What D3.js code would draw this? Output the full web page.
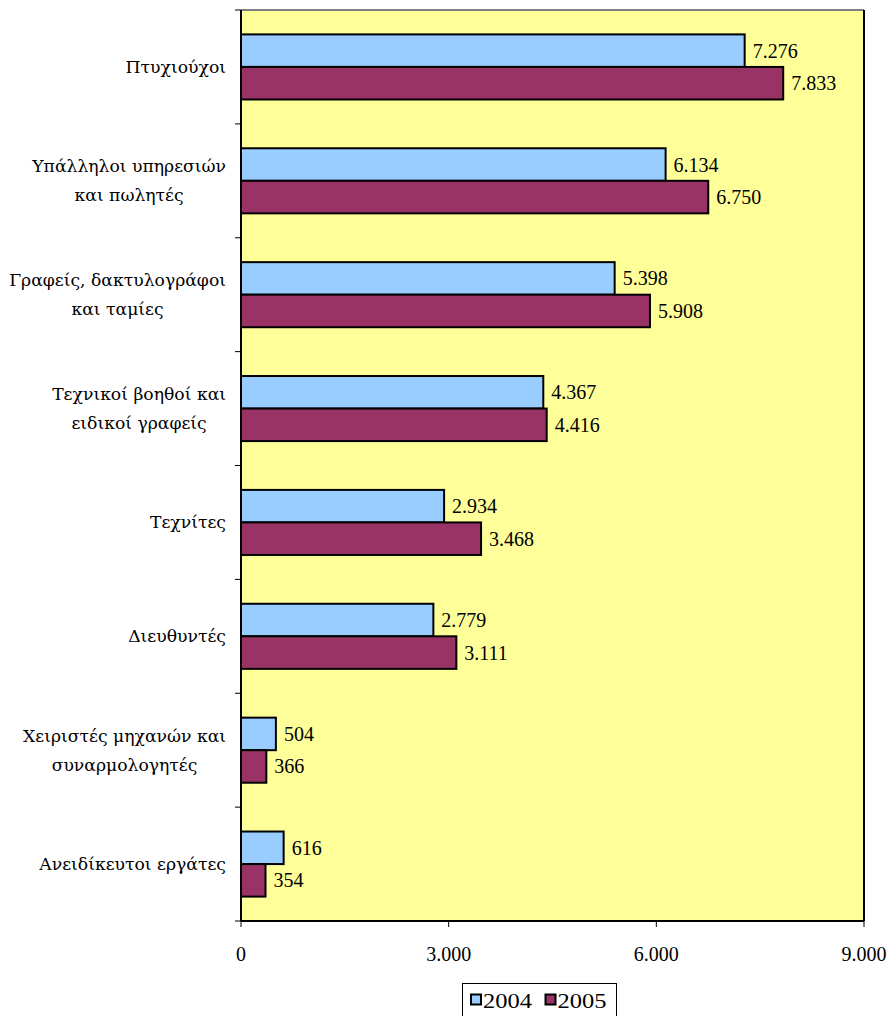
<!DOCTYPE html>
<html><head><meta charset="utf-8">
<script src="https://cdn.jsdelivr.net/npm/d3@7"></script>
<style>body{margin:0;background:#fff;} text{font-family:"Liberation Serif","Times New Roman",serif;fill:#000;} text.cat{font-family:"DejaVu Serif",serif;}</style>
</head><body>
<svg id="c" width="890" height="1016"></svg>
<script>
const categories = [
  ["Πτυχιούχοι"],
  ["Υπάλληλοι υπηρεσιών","και πωλητές"],
  ["Γραφείς, δακτυλογράφοι","και ταμίες"],
  ["Τεχνικοί βοηθοί και","ειδικοί γραφείς"],
  ["Τεχνίτες"],
  ["Διευθυντές"],
  ["Χειριστές μηχανών και","συναρμολογητές"],
  ["Ανειδίκευτοι εργάτες"]
];
const series = ["2004","2005"];
const values2004 = [7276,6134,5398,4367,2934,2779,504,616];
const values2005 = [7833,6750,5908,4416,3468,3111,366,354];
const xTicks = [0,3000,6000,9000];
const colors = ["#99CCFF","#993366"];

const svg = d3.select("#c");
const L=241, R=864, T=10, B=921;
const x = d3.scaleLinear().domain([0,9000]).range([L,R]);
const y = d3.scaleBand().domain(d3.range(categories.length)).range([T,B]).paddingInner(0).paddingOuter(0);
const fmt = v => d3.format(",")(v).replace(/,/g,".");

svg.append("rect").attr("x",L).attr("y",T).attr("width",R-L).attr("height",B-T)
  .attr("fill","#FFFF99").attr("stroke","none");
svg.append("line").attr("x1",L).attr("x2",R).attr("y1",T).attr("y2",T).attr("stroke","#808080").attr("stroke-width",2);
svg.append("line").attr("x1",R).attr("x2",R).attr("y1",T).attr("y2",B).attr("stroke","#000").attr("stroke-width",2);

const bw = y.bandwidth()/3.5;
const data = [values2004, values2005];
categories.forEach((c,i)=>{
  const y0 = y(i) + y.bandwidth()*0.75/3.5;
  data.forEach((vals,s)=>{
    const by = y0 + s*bw;
    svg.append("rect").attr("x",x(0)).attr("y",by).attr("width",x(vals[i])-x(0)).attr("height",bw)
      .attr("fill",colors[s]).attr("stroke","#000").attr("stroke-width",2);
    svg.append("text").attr("x",x(vals[i])+8).attr("y",by+bw/2).attr("dy","0.35em")
      .attr("font-size",20).text(fmt(vals[i]));
  });
  const g = svg.append("g");
  const lines = c.map((t,k)=>g.append("text").attr("class","cat").attr("font-size",17.2).attr("text-anchor","middle").text(t));
  const maxw = d3.max(lines, l=>l.node().getComputedTextLength());
  const cx = 226 - maxw/2;
  const lh = 29;
  const cy = y(i)+y.bandwidth()/2;
  lines.forEach((l,k)=>{
    l.attr("x",cx).attr("y",cy + (k-(c.length-1)/2)*lh).attr("dy","0.35em");
  });
});

svg.append("line").attr("x1",L).attr("x2",L).attr("y1",T).attr("y2",B).attr("stroke","#000").attr("stroke-width",2);
d3.range(categories.length+1).forEach(i=>{
  const yy = i<categories.length ? y(i) : B;
  svg.append("line").attr("x1",L-6).attr("x2",L).attr("y1",yy).attr("y2",yy).attr("stroke","#000").attr("stroke-width",1);
});
svg.append("line").attr("x1",L).attr("x2",R).attr("y1",B).attr("y2",B).attr("stroke","#000").attr("stroke-width",2);
xTicks.forEach(t=>{
  svg.append("line").attr("x1",x(t)).attr("x2",x(t)).attr("y1",B).attr("y2",B+6).attr("stroke","#000").attr("stroke-width",1);
  svg.append("text").attr("x",x(t)).attr("y",954).attr("dy","0.35em").attr("text-anchor","middle")
    .attr("font-size",20).text(fmt(t));
});

const lg = svg.append("g");
lg.append("rect").attr("x",462.5).attr("y",983.5).attr("width",154).attr("height",40).attr("fill","#fff").attr("stroke","#000").attr("stroke-width",1);
series.forEach((s,k)=>{
  const lx = 471 + k*74.5;
  lg.append("rect").attr("x",lx).attr("y",994.5).attr("width",10).attr("height",10)
    .attr("fill",colors[k]).attr("stroke","#000").attr("stroke-width",2);
  lg.append("text").attr("x",lx+12).attr("y",1000).attr("dy","0.35em").attr("font-size",22)
    .attr("textLength",49).attr("lengthAdjust","spacingAndGlyphs").text(s);
});
</script>
</body></html>
